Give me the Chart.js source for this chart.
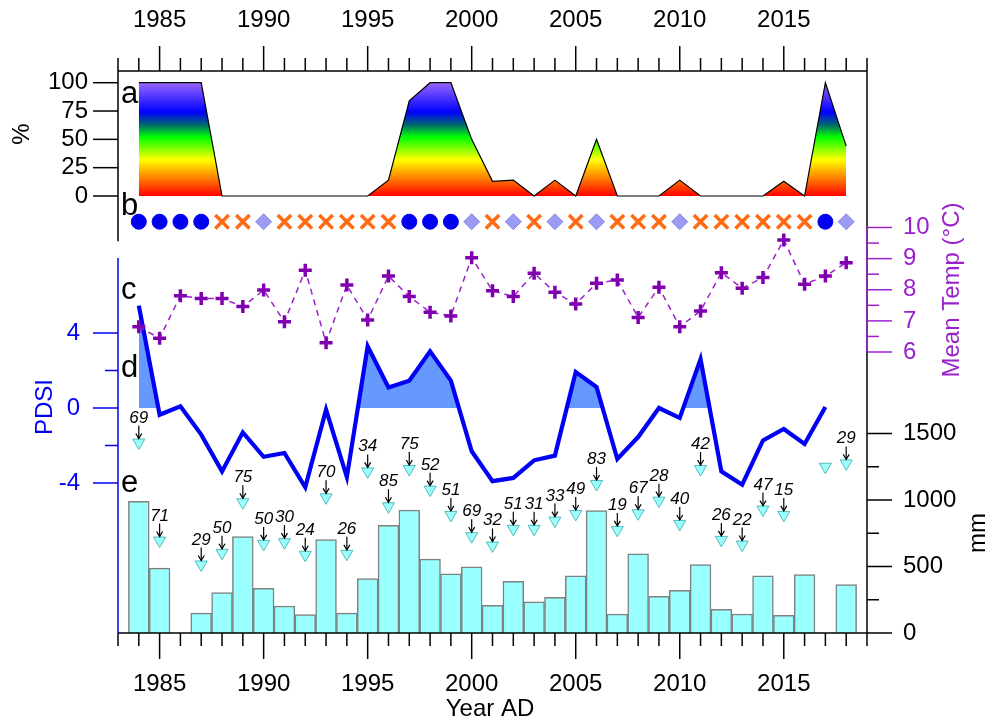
<!DOCTYPE html>
<html>
<head>
<meta charset="utf-8">
<script src="https://cdn.jsdelivr.net/npm/chart.js@4/dist/chart.umd.min.js"></script>
<style>
  html, body { margin: 0; padding: 0; background: #fff; }
  canvas { display: block; }
</style>
</head>
<body>
<canvas id="chart" width="987" height="723"></canvas>
<script>
// ---- data ----
const years = [1984, 1985, 1986, 1987, 1988, 1989, 1990, 1991, 1992, 1993, 1994, 1995,
  1996, 1997, 1998, 1999, 2000, 2001, 2002, 2003, 2004, 2005, 2006, 2007, 2008, 2009,
  2010, 2011, 2012, 2013, 2014, 2015, 2016, 2017, 2018];

// (a) percent
const pctCover = [100, 100, 100, 100, 0, 0, 0, 0, 0, 0, 0, 0, 14, 84, 100, 100, 50, 13,
  14, 0, 14, 0, 50, 0, 0, 0, 14, 0, 0, 0, 0, 13, 0, 100, 44];

// (b) yearly class symbol
const yearClass = ['dot', 'dot', 'dot', 'dot', 'cross', 'cross', 'diamond', 'cross', 'cross',
  'cross', 'cross', 'cross', 'cross', 'dot', 'dot', 'dot', 'diamond', 'cross', 'diamond',
  'cross', 'diamond', 'cross', 'diamond', 'cross', 'cross', 'cross', 'diamond', 'cross',
  'cross', 'cross', 'cross', 'cross', 'cross', 'dot', 'diamond'];

// (c) mean temperature, °C
const meanTemp = [6.81, 6.44, 7.81, 7.72, 7.72, 7.46, 7.99, 6.97, 8.63, 6.30, 8.15, 7.03,
  8.44, 7.78, 7.28, 7.16, 9.03, 7.97, 7.78, 8.53, 7.92, 7.54, 8.21, 8.31, 7.11, 8.08,
  6.81, 7.32, 8.55, 8.05, 8.39, 9.60, 8.18, 8.44, 8.87];

// (d) PDSI
const pdsi = [5.46, -0.36, 0.09, -1.42, -3.38, -1.30, -2.60, -2.40, -4.23, -0.09, -3.68,
  3.29, 1.10, 1.46, 3.02, 1.46, -2.31, -3.90, -3.73, -2.79, -2.54, 1.92, 1.12, -2.72,
  -1.55, 0.00, -0.53, 2.61, -3.38, -4.09, -1.73, -1.12, -1.92, 0.05, null];

// (e) precipitation, mm (bars) and peak markers with their labels
const precipMm = [990, 488, 0, 150, 303, 725, 335, 203, 138, 703, 150, 410, 810, 925, 555,
  445, 498, 208, 388, 235, 268, 430, 920, 143, 595, 275, 320, 515, 178, 143, 430, 133,
  440, 0, 365];
const peakMm = [1432, 695, null, 515, 603, 983, 670, 683, 588, 1020, 595, 1215, 953, 1233,
  1078, 888, 728, 658, 783, 783, 845, 895, 1120, 775, 900, 995, 820, 1233, 700, 665, 928,
  888, null, 1250, 1275];
const peakLabel = [69, 71, null, 29, 50, 75, 50, 30, 24, 70, 26, 34, 85, 75, 52, 51, 69, 32,
  51, 31, 33, 49, 83, 19, 67, 28, 40, 42, 26, 22, 47, 15, null, null, 29];

// axis ticks
const yearTicks = [1985, 1990, 1995, 2000, 2005, 2010, 2015];
const pctTicks = [0, 25, 50, 75, 100];
const pdsiTicks = [-4, 0, 4];
const pdsiMinor = [-2, 2];
const tempTicks = [6, 7, 8, 9, 10];
const tempMinor = [6.5, 7.5, 8.5, 9.5];
const mmTicks = [0, 500, 1000, 1500];
const mmMinor = [250, 750, 1250];

// ---- layout ----
const AREA_TOP = 71, AREA_BOTTOM = 633;
const FONT = '"Liberation Sans", Arial, sans-serif';
const PURPLE = '#9a22cc';
const BLUE = '#0000f5';

// every panel shares one plot area; pin each value axis to where it sits in the figure
function pinRange(v1, p1, v2, p2) {
  const k = (p1 - p2) / (v2 - v1);
  return { min: v1 - (AREA_BOTTOM - p1) / k, max: v1 + (p1 - AREA_TOP) / k };
}
const pctRange = pinRange(0, 196, 100, 82.7);
const pdsiRange = pinRange(0, 408, 4, 333);
const tempRange = pinRange(6, 352, 10, 227.5);
const mmRange = pinRange(0, 633, 1500, 433.5);
const SYMBOL_ROW = -22.7; // on the % axis

const markerStyle = {
  dot: { style: 'circle', fill: '#0000f0', stroke: '#0000f0', width: 1, r: 7.5 },
  cross: { style: 'crossRot', fill: '#ff6a13', stroke: '#ff6a13', width: 3.5, r: 9.5 },
  diamond: { style: 'rectRot', fill: '#9b9bf5', stroke: '#8a8ae0', width: 1, r: 8 }
};

function rainbow(chart) {
  const area = chart.chartArea;
  if (!area) return '#ff0000';
  const sc = chart.scales.yPct;
  const g = chart.ctx.createLinearGradient(0, sc.getPixelForValue(0), 0, sc.getPixelForValue(100));
  g.addColorStop(0, '#ff0000');
  g.addColorStop(0.15, '#ff7a00');
  g.addColorStop(0.32, '#ffff00');
  g.addColorStop(0.52, '#00ff00');
  g.addColorStop(0.63, '#00666e');
  g.addColorStop(0.74, '#0000ff');
  g.addColorStop(1, '#9a66ff');
  return g;
}

function valueAxis(position, range, ticks, color, padding) {
  return {
    type: 'linear', position: position, min: range.min, max: range.max,
    grid: { display: false, drawTicks: false }, border: { display: false },
    ticks: { color: color, padding: padding, font: { size: 24 }, autoSkip: false,
      callback: v => String(v) },
    afterBuildTicks: s => { s.ticks = ticks.map(v => ({ value: v })); },
    afterFit: s => { s.width = 0; }
  };
}
function yearAxis(position, padding) {
  return {
    type: 'linear', position: position, min: 1983, max: 2019, offset: false,
    grid: { display: false, drawTicks: false, offset: false }, border: { display: false },
    ticks: { color: '#000', padding: padding, font: { size: 24 }, autoSkip: false, maxRotation: 0,
      callback: v => String(v) },
    afterBuildTicks: s => { s.ticks = yearTicks.map(v => ({ value: v })); },
    afterFit: s => { s.height = 0; }
  };
}

function line(c, x0, y0, x1, y1) {
  c.beginPath(); c.moveTo(x0, y0); c.lineTo(x1, y1); c.stroke();
}
function vText(c, text, x, y, color) {
  c.save(); c.translate(x, y); c.rotate(-Math.PI / 2);
  c.fillStyle = color; c.textAlign = 'center'; c.textBaseline = 'middle';
  c.fillText(text, 0, 0); c.restore();
}

const figureDecor = {
  id: 'figureDecor',
  // axes were fitted with no size so the plot area is fixed; open their boxes
  // outward again so the tick labels are not clipped away
  afterLayout(chart) {
    Object.values(chart.scales).forEach(s => {
      if (s.position === 'left') s.left = 0;
      else if (s.position === 'right') s.right = chart.width;
      else if (s.position === 'top') s.top = 0;
      else if (s.position === 'bottom') s.bottom = chart.height;
    });
  },
  afterDatasetsDraw(chart) {
    const c = chart.ctx;
    const { left, right, top, bottom } = chart.chartArea;
    const s = chart.scales;
    c.save();
    c.lineWidth = 1.5;
    c.lineCap = 'butt';

    // frame
    c.strokeStyle = '#000';
    line(c, left, top, right, top);
    line(c, left, bottom, right, bottom);
    line(c, right, top, right, bottom);
    line(c, left, top, left, s.yPct.getPixelForValue(-40));
    c.strokeStyle = BLUE;
    line(c, left, s.yPdsi.getPixelForValue(8), left, bottom);
    c.strokeStyle = PURPLE;
    line(c, right, s.yTemp.getPixelForValue(6), right, s.yTemp.getPixelForValue(10));

    // year ticks top and bottom
    c.strokeStyle = '#000';
    for (let yr = 1983; yr <= 2019; yr++) {
      const x = s.x.getPixelForValue(yr);
      const major = yr % 5 === 0;
      line(c, x, top, x, top - (major ? 25 : 13));
      line(c, x, bottom, x, bottom + (major ? 26 : 13));
    }
    // left ticks
    pctTicks.forEach(v => { const y = s.yPct.getPixelForValue(v); line(c, left - 25, y, left, y); });
    c.strokeStyle = BLUE;
    pdsiTicks.forEach(v => { const y = s.yPdsi.getPixelForValue(v); line(c, left - 25, y, left, y); });
    pdsiMinor.forEach(v => { const y = s.yPdsi.getPixelForValue(v); line(c, left - 13, y, left, y); });
    // right ticks
    c.strokeStyle = PURPLE;
    tempTicks.forEach(v => { const y = s.yTemp.getPixelForValue(v); line(c, right, y, right + 25, y); });
    tempMinor.forEach(v => { const y = s.yTemp.getPixelForValue(v); line(c, right, y, right + 12, y); });
    c.strokeStyle = '#000';
    mmTicks.forEach(v => { const y = s.yMm.getPixelForValue(v); line(c, right, y, right + 25, y); });
    mmMinor.forEach(v => { const y = s.yMm.getPixelForValue(v); line(c, right, y, right + 12, y); });

    // axis titles
    c.font = '24px ' + FONT;
    vText(c, '%', 22, 134, '#000');
    vText(c, 'PDSI', 45, 407, BLUE);
    vText(c, 'Mean Temp (°C)', 952, 290, PURPLE);
    vText(c, 'mm', 978, 533, '#000');
    c.fillStyle = '#000'; c.textAlign = 'center'; c.textBaseline = 'middle';
    c.fillText('Year AD', 490, 709);

    // panel letters
    c.font = '31px ' + FONT;
    c.textAlign = 'left'; c.textBaseline = 'alphabetic';
    [['a', 103], ['b', 215], ['c', 299], ['d', 377], ['e', 491.5]].forEach(([t, y]) => {
      c.fillText(t, 121, y);
    });

    // peak labels with arrows
    const meta = chart.getDatasetMeta(0);
    c.font = 'italic 17px ' + FONT;
    c.textAlign = 'center'; c.textBaseline = 'alphabetic';
    c.lineWidth = 1.2;
    meta.data.forEach((pt, i) => {
      if (peakLabel[i] == null || pt.skip) return;
      const x = pt.x, y = pt.y;
      c.fillText(String(peakLabel[i]), x, y - 20);
      line(c, x, y - 17, x, y - 4);
      c.beginPath(); c.moveTo(x - 3, y - 9); c.lineTo(x, y - 4); c.lineTo(x + 3, y - 9); c.stroke();
    });
    c.restore();
  }
};

new Chart(document.getElementById('chart'), {
  type: 'bar',
  data: {
    datasets: [
      {
        type: 'scatter', label: 'peak', order: 0, xAxisID: 'x', yAxisID: 'yMm',
        data: years.map((yr, i) => ({ x: yr, y: peakMm[i] })),
        pointStyle: 'triangle', rotation: 180, pointRadius: 7,
        pointBackgroundColor: '#99ffff', pointBorderColor: '#55bbbb', pointBorderWidth: 1
      },
      {
        type: 'line', label: 'Mean Temp', order: 1, xAxisID: 'x', yAxisID: 'yTemp',
        data: years.map((yr, i) => ({ x: yr, y: meanTemp[i] })),
        borderColor: PURPLE, borderWidth: 1.5, borderDash: [6, 5], fill: false,
        pointStyle: 'cross', pointRadius: 6.5, pointBorderWidth: 3.5,
        pointBorderColor: '#8000b0', pointBackgroundColor: '#8000b0'
      },
      {
        type: 'scatter', label: 'class', order: 2, xAxisID: 'x', yAxisID: 'yPct',
        data: years.map(yr => ({ x: yr, y: SYMBOL_ROW })),
        pointStyle: yearClass.map(k => markerStyle[k].style),
        pointRadius: yearClass.map(k => markerStyle[k].r),
        pointBackgroundColor: yearClass.map(k => markerStyle[k].fill),
        pointBorderColor: yearClass.map(k => markerStyle[k].stroke),
        pointBorderWidth: yearClass.map(k => markerStyle[k].width)
      },
      {
        type: 'line', label: 'PDSI', order: 3, xAxisID: 'x', yAxisID: 'yPdsi',
        data: years.map((yr, i) => ({ x: yr, y: pdsi[i] })),
        borderColor: BLUE, borderWidth: 4.2, pointRadius: 0,
        fill: { target: { value: 0 }, above: '#6699ff', below: 'rgba(0,0,0,0)' }
      },
      {
        type: 'line', label: '%', order: 4, xAxisID: 'x', yAxisID: 'yPct',
        data: years.map((yr, i) => ({ x: yr, y: pctCover[i] })),
        borderColor: '#000', borderWidth: 1.2, pointRadius: 0,
        backgroundColor: ctx => rainbow(ctx.chart), fill: 'origin'
      },
      {
        type: 'bar', label: 'mm', order: 5, xAxisID: 'x', yAxisID: 'yMm',
        data: years.map((yr, i) => ({ x: yr, y: precipMm[i] })),
        backgroundColor: '#99ffff', borderColor: '#808080', borderWidth: 1.5,
        barPercentage: 1, categoryPercentage: 1
      }
    ]
  },
  options: {
    responsive: false,
    animation: false,
    layout: { padding: { left: 118, top: 71, right: 120, bottom: 90 } },
    font: { family: FONT },
    plugins: { legend: { display: false }, tooltip: { enabled: false } },
    scales: {
      x: yearAxis('bottom', 37),
      xTop: yearAxis('top', 36),
      yPct: valueAxis('left', pctRange, pctTicks, '#000', 30),
      yPdsi: valueAxis('left', pdsiRange, pdsiTicks, BLUE, 38),
      yTemp: valueAxis('right', tempRange, tempTicks, PURPLE, 36),
      yMm: valueAxis('right', mmRange, mmTicks, '#000', 36)
    }
  },
  plugins: [figureDecor]
});
</script>
</body>
</html>
